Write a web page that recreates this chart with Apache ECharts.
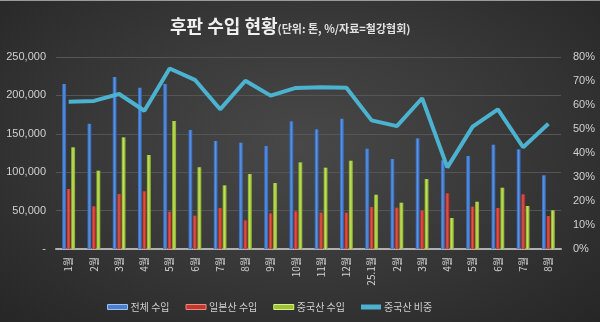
<!DOCTYPE html>
<html>
<head>
<meta charset="utf-8">
<script src="https://cdn.jsdelivr.net/npm/echarts@6/dist/echarts.min.js"></script>
<style>
html,body{margin:0;padding:0;}
body{width:600px;height:322px;overflow:hidden;
background:radial-gradient(ellipse at 50% 45%, #484848 0%, #3a3a3a 45%, #262626 100%);}
#top{position:absolute;left:0;top:0;width:600px;height:1px;background:#9a9a9a;}
#c{width:600px;height:322px;}
</style>
</head>
<body>
<div id="top"></div>
<div id="c"></div>
<script>
const categories = ['1월','2월','3월','4월','5월','6월','7월','8월','9월','10월','11월','12월','25.1월','2월','3월','4월','5월','6월','7월','8월'];
const totalImport = [215000,163000,224000,210000,215000,155000,140600,138400,134100,166200,155800,169700,130600,117200,144100,115500,121100,135800,129800,96000];
const japanImport = [78100,55600,71600,75100,48600,43400,53400,37300,46400,49000,47300,47300,54700,53800,49900,72500,55100,53400,71200,43000];
const chinaImport = [132400,102000,145400,122400,166700,106500,82900,97600,85900,112800,105900,115000,70700,60300,91100,40400,61600,79800,56000,50400];
const chinaShare = [61.4,61.7,64.6,57.6,75.2,70.5,58.2,70.1,63.9,67.1,67.4,67.2,53.6,51.2,62.8,34.0,51.0,58.2,42.4,52.2];
const leftTicks = {min:0, max:250000, interval:50000};
const rightTicks = {min:0, max:80, interval:10};

const chart = echarts.init(document.getElementById('c'), null, {renderer:'canvas'});
const FONT = '"Noto Sans CJK KR", "Noto Sans", sans-serif';
function cyl(dark, light){
  return new echarts.graphic.LinearGradient(0,0,1,0,[
    {offset:0,color:dark},{offset:0.45,color:light},{offset:1,color:dark}]);
}
const barCommon = {type:'bar', barWidth:4, barGap:'12%'};
chart.setOption({
  backgroundColor:'transparent',
  animation:false,
  textStyle:{fontFamily:FONT},
  title:{
    left:165, top:12,
    text:'{a|후판 수입 현황}{b|(단위: 톤, %/자료=철강협회)}',
    textStyle:{rich:{
      a:{fontSize:18,fontWeight:'bold',color:'#f0f0f0',fontFamily:FONT},
      b:{fontSize:11,color:'#e0e0e0',fontFamily:FONT,padding:[5,0,0,0]}
    }}
  },
  legend:{
    top:297, left:102,
    itemGap:16, itemWidth:20, itemHeight:5,
    textStyle:{color:'#cfcfcf',fontSize:10,fontFamily:FONT,padding:[0,0,0,-2]},
    data:[
      {name:'전체 수입',icon:'rect',itemStyle:{color:'#4a7fd0',borderColor:'#9cc0f0',borderWidth:1}},
      {name:'일본산 수입',icon:'rect',itemStyle:{color:'#c0392f',borderColor:'#f08a80',borderWidth:1}},
      {name:'중국산 수입',icon:'rect',itemStyle:{color:'#9bc23c',borderColor:'#dcf07a',borderWidth:1}},
      {name:'중국산 비중',icon:'rect',itemStyle:{color:'#4bb3cf',borderWidth:0}}
    ]
  },
  grid:{left:56, right:39, top:57, bottom:73},
  xAxis:{
    type:'category', data:categories,
    axisLine:{lineStyle:{color:'#b0b0b0',width:2}},
    axisTick:{show:false},
    axisLabel:{rotate:90, color:'#d0d0d0', fontSize:10, margin:8, fontFamily:FONT}
  },
  yAxis:[
    {type:'value', min:leftTicks.min, max:leftTicks.max, interval:leftTicks.interval,
     axisLine:{show:false}, axisTick:{show:false},
     splitLine:{lineStyle:{color:'#555555',width:1}},
     axisLabel:{color:'#d0d0d0',fontSize:11,margin:10,fontFamily:'"Liberation Sans", Arial, sans-serif',
       formatter:v=> v===0 ? '-' : v.toLocaleString('en-US')}},
    {type:'value', min:rightTicks.min, max:rightTicks.max, interval:rightTicks.interval,
     axisLine:{show:false}, axisTick:{show:false}, splitLine:{show:false},
     axisLabel:{color:'#d0d0d0',fontSize:11,margin:12,fontFamily:'"Liberation Sans", Arial, sans-serif',
       formatter:v=> v+'%'}}
  ],
  series:[
    Object.assign({name:'전체 수입', data:totalImport, itemStyle:{color:cyl('#2f5fae','#5b94e0')}}, barCommon),
    Object.assign({name:'일본산 수입', data:japanImport, itemStyle:{color:cyl('#a8261f','#e0554a')}}, barCommon),
    Object.assign({name:'중국산 수입', data:chinaImport, itemStyle:{color:cyl('#7fa32a','#c4e35a')}}, barCommon),
    {name:'중국산 비중', type:'line', yAxisIndex:1, data:chinaShare, symbol:'none',
     lineStyle:{color:'#4bb3cf',width:4}, itemStyle:{color:'#4bb3cf'}}
  ]
});
</script>
</body>
</html>
